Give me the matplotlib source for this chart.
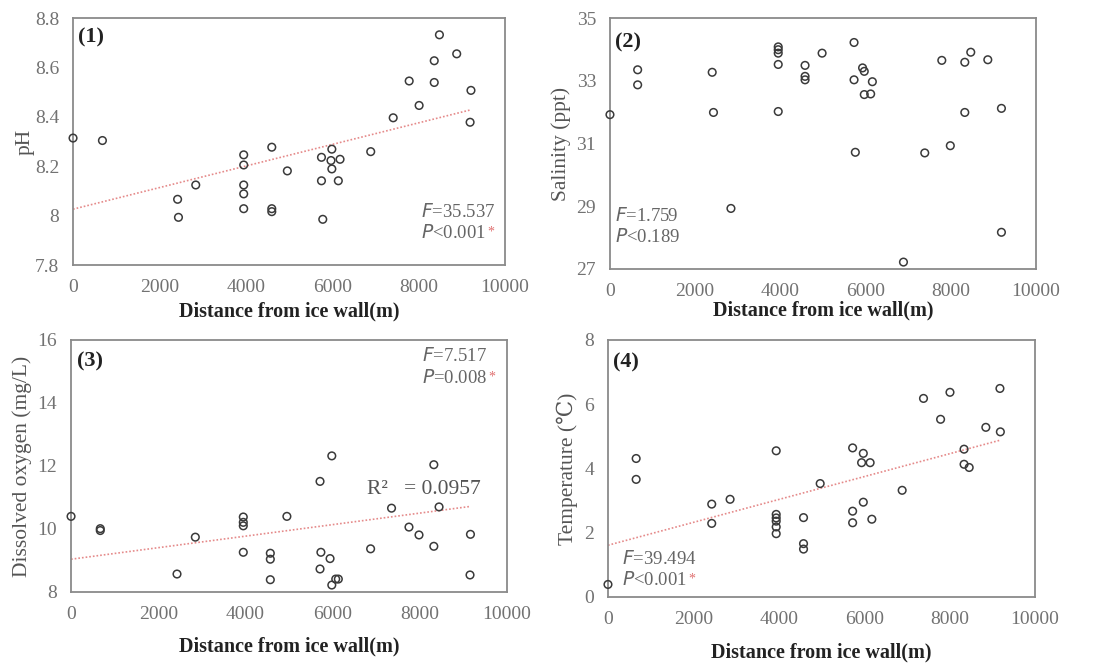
import matplotlib
matplotlib.use("Agg")
import matplotlib.pyplot as plt
import numpy as np

# ---------------- data ----------------
ph_x = [0, 680, 2420, 2440, 2840, 3950, 3950, 3950, 3950, 3950, 4600, 4600, 4600,
        4960, 5750, 5750, 5780, 5990, 5970, 5990, 6180, 6140, 6890, 7410, 7780,
        8010, 8360, 8360, 8480, 8880, 9210, 9190]
ph_y = [8.314, 8.304, 8.066, 7.993, 8.124, 8.246, 8.205, 8.124, 8.088, 8.028, 8.277, 8.028, 8.016,
        8.181, 8.236, 8.141, 7.985, 8.269, 8.223, 8.189, 8.228, 8.141, 8.259, 8.396, 8.545,
        8.446, 8.627, 8.539, 8.732, 8.655, 8.507, 8.378]
ph_fit = (8.026, 4.37e-5)

sal_x = [0, 650, 650, 2400, 2430, 2840, 3950, 3950, 3950, 3950, 3950, 4580, 4580, 4580,
         4980, 5730, 5730, 5760, 5930, 5970, 5970, 6120, 6160, 6890, 7390, 7790, 7990,
         8330, 8330, 8470, 8870, 9190, 9190]
sal_y = [31.92, 33.35, 32.87, 33.27, 31.99, 28.93, 34.08, 33.99, 33.88, 33.52, 32.02, 33.49, 33.14, 33.03,
         33.88, 34.22, 33.03, 30.72, 33.41, 33.30, 32.56, 32.58, 32.97, 27.22, 30.70, 33.65, 30.93,
         33.59, 31.99, 33.91, 33.67, 32.12, 28.17]

do_x = [0, 670, 670, 2430, 2850, 3950, 3950, 3950, 3950, 4570, 4570, 4570, 4950,
        5710, 5730, 5710, 5980, 5940, 5980, 6070, 6130, 6870, 7350, 7750, 7980,
        8320, 8320, 8440, 9160, 9150]
do_y = [10.40, 10.01, 9.95, 8.57, 9.74, 10.38, 10.21, 10.10, 9.26, 9.23, 9.04, 8.39, 10.40,
        11.51, 9.26, 8.73, 12.32, 9.06, 8.22, 8.41, 8.41, 9.37, 10.66, 10.06, 9.81,
        12.04, 9.45, 10.70, 9.83, 8.54]
do_fit = (9.04, 1.83e-4)

tmp_x = [0, 660, 660, 2430, 2430, 2860, 3940, 3940, 3940, 3940, 3940, 3940, 4580, 4580, 4580,
         4970, 5730, 5730, 5730, 5980, 5940, 6140, 5980, 6180, 6890, 7390, 7790, 8010,
         8340, 8340, 8460, 8850, 9180, 9190]
tmp_y = [0.39, 4.31, 3.66, 2.89, 2.29, 3.04, 4.55, 2.57, 2.46, 2.36, 2.18, 1.97, 2.47, 1.66, 1.49,
         3.53, 4.64, 2.67, 2.31, 4.47, 4.18, 4.18, 2.95, 2.42, 3.32, 6.18, 5.53, 6.37,
         4.60, 4.13, 4.03, 5.28, 6.49, 5.14]
tmp_fit = (1.61, 3.56e-4)

x_ticks = [0, 2000, 4000, 6000, 8000, 10000]
ph_ticks = [7.8, 8.0, 8.2, 8.4, 8.6, 8.8]
ph_ticklabels = ["7.8", "8", "8.2", "8.4", "8.6", "8.8"]
sal_ticks = [27, 29, 31, 33, 35]
do_ticks = [8, 10, 12, 14, 16]
tmp_ticks = [0, 2, 4, 6, 8]

xlabel = "Distance from ice wall(m)"

# ---------------- style ----------------
SERIF = ["Liberation Serif", "DejaVu Serif"]
plt.rcParams["font.family"] = SERIF
TICK_C = "#727272"
SPINE_C = "#8a8a8a"
PT_C = "#3a3a3a"
FIT_C = "#e58a8a"

fig = plt.figure(figsize=(11.05, 6.65), dpi=100)

specs = [
    ([0.0661, 0.6015, 0.391, 0.3714], ph_x, ph_y, ph_fit, ph_ticks, ph_ticklabels, (7.8, 8.8),
     "pH", "(1)", -0.088, -0.146, (0.012, 0.923)),
    ([0.552, 0.5955, 0.3855, 0.3774], sal_x, sal_y, None, sal_ticks, [str(t) for t in sal_ticks], (27, 35),
     "Salinity (ppt)", "(2)", -0.092, -0.127, (0.012, 0.904)),
    ([0.0643, 0.1098, 0.3946, 0.379], do_x, do_y, do_fit, do_ticks, [str(t) for t in do_ticks], (8, 16),
     "Dissolved oxygen (mg/L)", "(3)", -0.089, -0.175, (0.014, 0.913)),
    ([0.5502, 0.1023, 0.3864, 0.3865], tmp_x, tmp_y, tmp_fit, tmp_ticks, [str(t) for t in tmp_ticks], (0, 8),
     "Temperature (\u2103)", "(4)", -0.070, -0.179, (0.012, 0.914)),
]

axes = []
for rect, xs, ys, fit, yt, ytl, ylim, ylab, tag, ylx, xly, tagxy in specs:
    ax = fig.add_axes(rect)
    axes.append(ax)
    ax.scatter(xs, ys, s=30, facecolors="none", edgecolors=PT_C, linewidths=1.1, zorder=3,
               clip_on=False)
    if fit is not None:
        xx = np.array([0, max(xs)])
        ax.plot(xx, fit[0] + fit[1] * xx, linestyle=(0, (1, 1.2)), color=FIT_C, lw=1.2, zorder=2)
    ax.set_xlim(0, 10000)
    ax.set_ylim(*ylim)
    ax.set_xticks(x_ticks)
    ax.set_xticklabels([str(t) for t in x_ticks])
    ax.set_yticks(yt)
    ax.set_yticklabels(ytl)
    ax.tick_params(length=0, labelsize=14, labelcolor=TICK_C, pad=10)
    for sp in ax.spines.values():
        sp.set_color(SPINE_C)
        sp.set_linewidth(1.3)
    ax.set_xlabel(xlabel, fontsize=14.5, fontweight="bold", color="#222222")
    ax.xaxis.set_label_coords(0.5, xly)
    ax.set_ylabel(ylab, fontsize=15.5, color="#555555")
    ax.yaxis.set_label_coords(ylx, 0.5)
    ax.text(tagxy[0], tagxy[1], tag, transform=ax.transAxes, fontsize=16, fontweight="bold",
            color="#222222", ha="left", va="center")

def stat(ax, x, y1, y2, ftxt, ptxt, pop, star=True):
    ax.text(x, y1, "$\\mathit{F}$" + ftxt, transform=ax.transAxes, fontsize=13.5,
            color="#666666", ha="left", va="center")
    t = ax.text(x, y2, "$\\mathit{P}$" + pop + ptxt, transform=ax.transAxes, fontsize=13.5,
                color="#666666", ha="left", va="center")
    if star:
        fig.canvas.draw()
        bb = t.get_window_extent().transformed(ax.transAxes.inverted())
        ax.text(bb.x1 + 0.003, y2 + 0.005, "*", transform=ax.transAxes, fontsize=10,
                color="#e07070", ha="left", va="center")

stat(axes[0], 0.805, 0.215, 0.13, "=35.537", "0.001", "<")
stat(axes[1], 0.012, 0.21, 0.127, "=1.759", "0.189", "<", star=False)
stat(axes[2], 0.805, 0.936, 0.849, "=7.517", "0.008", "=")
stat(axes[3], 0.033, 0.148, 0.066, "=39.494", "0.001", "<")

axes[2].text(0.679, 0.405, "R\u00b2   = 0.0957", transform=axes[2].transAxes, fontsize=15.5,
             color="#555555", ha="left", va="center")

fig.savefig("out.png", dpi=100)
